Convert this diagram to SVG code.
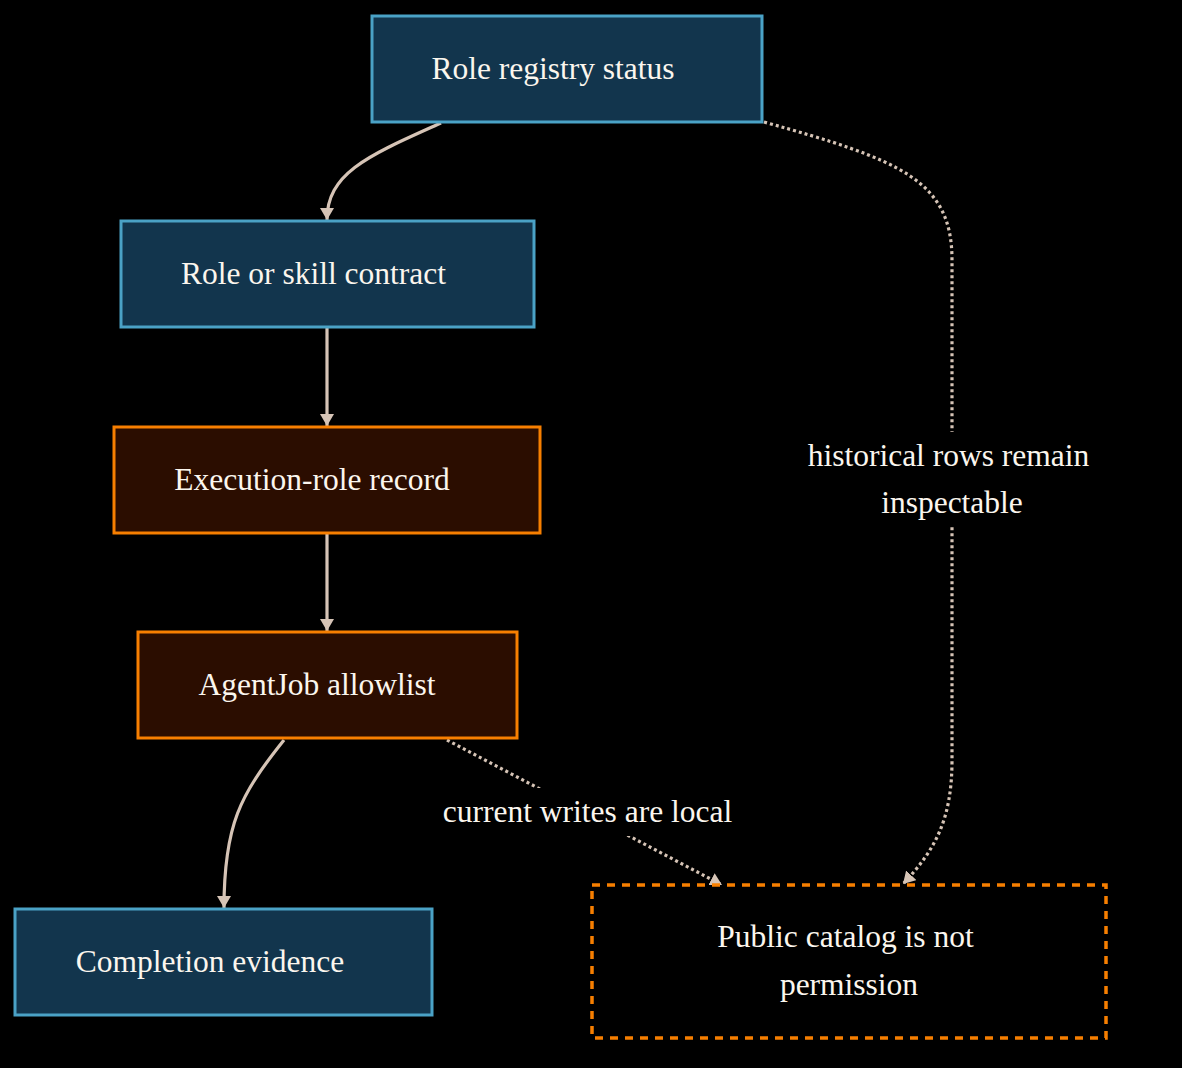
<svg xmlns="http://www.w3.org/2000/svg" width="1182" height="1068" viewBox="0 0 1182 1068">
<style>
.bg{fill:#000}
.blue rect{fill:#12354d;stroke:#4aa2c6;stroke-width:3}
.orange rect{fill:#2b0d00;stroke:#f77f00;stroke-width:3}
.dashed rect{fill:#000;stroke:#f77f00;stroke-width:3.5;stroke-dasharray:8 7}
text{font-family:"Liberation Serif","Times New Roman",serif;font-size:31.5px;fill:#fbf6ee;text-anchor:middle}
.edge{fill:none;stroke:#d6c4b6;stroke-width:3.2}
.dot{stroke-dasharray:3 3}
.lbg{fill:#000}
</style>
<defs>
<marker id="arr" viewBox="0 0 12 14" refX="12" refY="7" markerWidth="12" markerHeight="14" markerUnits="userSpaceOnUse" orient="auto">
<path d="M0,0 L12,7 L0,14 z" fill="#d6c4b6"/>
</marker>
</defs>
<rect class="bg" x="0" y="0" width="1182" height="1068"/>
<g id="connectors">
<path class="edge" d="M441,123 C370,155 327,172 327,220" marker-end="url(#arr)"/>
<path class="edge" d="M327,328 L327,426" marker-end="url(#arr)"/>
<path class="edge" d="M327,534 L327,631" marker-end="url(#arr)"/>
<path class="edge" d="M284,740 C240,795 224,825 224,908" marker-end="url(#arr)"/>
<path class="edge dot" d="M764,122 C900,160 952,180 952,260 L952,760 C952,820 935,850 903,884" marker-end="url(#arr)"/>
<path class="edge dot" d="M447,740 L722,885" marker-end="url(#arr)"/>
<g id="edge-labels">
<rect class="lbg" x="800" y="432" width="298" height="95"/>
<text x="948.5" y="466">historical rows remain</text>
<text x="952" y="513">inspectable</text>
<rect class="lbg" x="436" y="788" width="304" height="48"/>
<text x="587.5" y="822">current writes are local</text>
</g>
</g>
<g id="node-registry" class="blue">
<rect x="372" y="16" width="390" height="106"/>
<text x="553" y="79">Role registry status</text>
</g>
<g id="node-contract" class="blue">
<rect x="121" y="221" width="413" height="106"/>
<text x="313.5" y="284">Role or skill contract</text>
</g>
<g id="node-execution" class="orange">
<rect x="114" y="427" width="426" height="106"/>
<text x="312" y="490">Execution-role record</text>
</g>
<g id="node-allowlist" class="orange">
<rect x="138" y="632" width="379" height="106"/>
<text x="317" y="695">AgentJob allowlist</text>
</g>
<g id="node-completion" class="blue">
<rect x="15" y="909" width="417" height="106"/>
<text x="210" y="972">Completion evidence</text>
</g>
<g id="node-catalog" class="dashed">
<rect x="592" y="885" width="514" height="153"/>
<text x="845.5" y="947">Public catalog is not</text>
<text x="849" y="995">permission</text>
</g>
</svg>
